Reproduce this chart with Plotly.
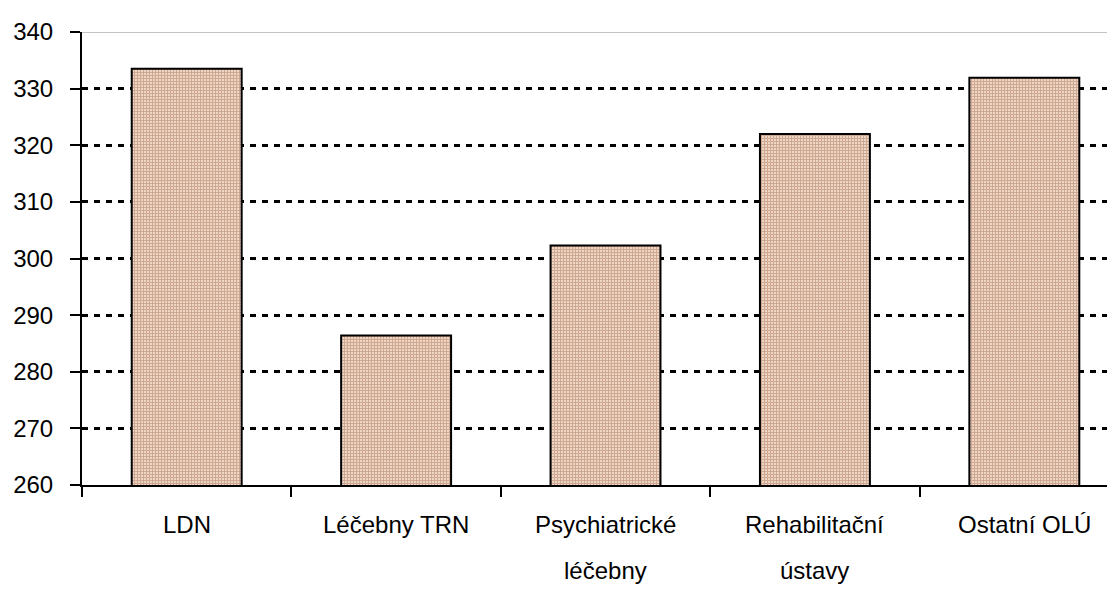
import plotly.graph_objects as go

categories = ["LDN", "Léčebny TRN", "Psychiatrické", "Rehabilitační", "Ostatní OLÚ"]
label_line2 = ["", "", "léčebny", "ústavy", ""]
values = [333.5, 286.4, 302.3, 322.0, 331.9]
y_ticks = [260, 270, 280, 290, 300, 310, 320, 330, 340]

FONT = "Liberation Sans Narrow, Arial Narrow, Liberation Sans, Arial, sans-serif"
xs = list(range(len(categories)))

fig = go.Figure()
fig.add_trace(go.Bar(
    x=xs, y=values, width=0.525,
    marker=dict(
        color="#D9B39B",
        line=dict(color="black", width=2),
        pattern=dict(shape="+", fgcolor="#B07A5C", bgcolor="#EDD6C6", size=3, solidity=0.55),
    ),
    showlegend=False,
))

annotations = []
for i, (l1, l2) in enumerate(zip(categories, label_line2)):
    annotations.append(dict(x=i, y=0, xref="x", yref="paper", text=l1, showarrow=False,
                            xanchor="center", yanchor="middle", yshift=-39,
                            font=dict(family=FONT, size=24, color="black")))
    if l2:
        annotations.append(dict(x=i, y=0, xref="x", yref="paper", text=l2, showarrow=False,
                                xanchor="center", yanchor="middle", yshift=-85,
                                font=dict(family=FONT, size=24, color="black")))

fig.update_layout(
    width=1107, height=581,
    margin=dict(l=74, r=0, t=24, b=104),
    paper_bgcolor="white", plot_bgcolor="white",
    bargap=0.475,
    annotations=annotations,
    shapes=[dict(type="line", xref="paper", yref="y", x0=0, x1=1, y0=340, y1=340,
                 line=dict(color="#888888", width=1), layer="below")],
    xaxis=dict(
        range=[-0.5, 4.433],
        tickmode="array", tickvals=[-0.5, 0.5, 1.5, 2.5, 3.5],
        showticklabels=False,
        ticks="outside", ticklen=10, tickwidth=2, tickcolor="black",
        showline=True, linecolor="black", linewidth=2,
        showgrid=False, zeroline=False, fixedrange=True,
    ),
    yaxis=dict(
        range=[260, 340],
        tickmode="array", tickvals=y_ticks,
        ticks="outside", ticklen=10, tickwidth=2, tickcolor="black",
        ticklabelstandoff=12,
        tickfont=dict(family=FONT, size=24, color="black"),
        showline=True, linecolor="black", linewidth=2,
        showgrid=True, gridcolor="black", gridwidth=3, griddash="6px,6px",
        zeroline=False,
    ),
)

fig.write_html("out.html")
